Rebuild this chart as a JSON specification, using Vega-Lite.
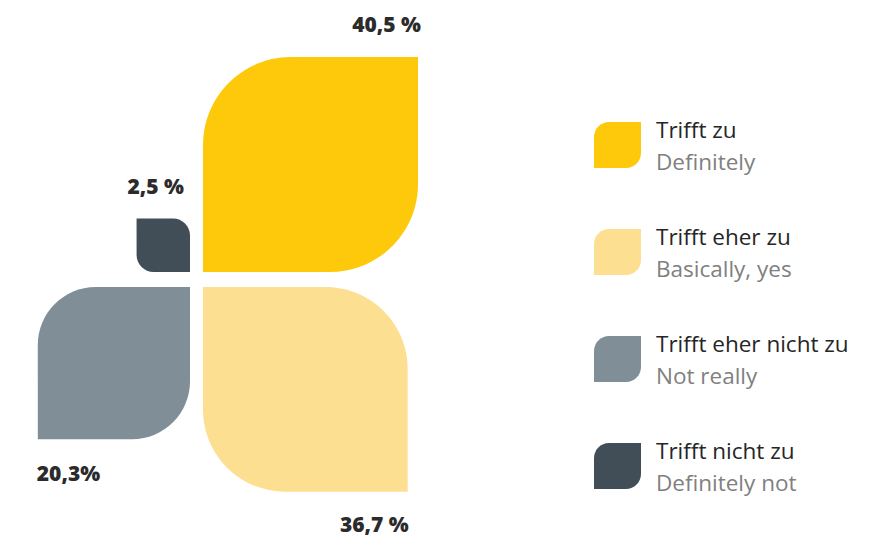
{
  "$schema": "https://vega.github.io/schema/vega-lite/v6.json",
  "width": 887,
  "height": 538,
  "padding": 0,
  "autosize": {"type": "none"},
  "background": "white",
  "config": {"view": {"stroke": null}},
  "data": {
    "values": [
      {"cat": "Trifft zu", "en": "Definitely", "value": 40.5, "label": "40,5 %"},
      {"cat": "Trifft eher zu", "en": "Basically, yes", "value": 36.7, "label": "36,7 %"},
      {"cat": "Trifft eher nicht zu", "en": "Not really", "value": 20.3, "label": "20,3%"},
      {"cat": "Trifft nicht zu", "en": "Definitely not", "value": 2.5, "label": "2,5 %"}
    ]
  },
  "resolve": {"scale": {"x": "independent", "y": "independent"}},
  "layer": [
    {
      "transform": [{"filter": "datum.cat === 'Trifft zu'"}],
      "encoding": {
        "x": {"field": "value", "type": "quantitative", "axis": null, "scale": {"type": "sqrt", "domain": [0, 40.5], "range": [203, 418], "nice": false}},
        "y": {"field": "value", "type": "quantitative", "axis": null, "scale": {"type": "sqrt", "domain": [0, 40.5], "range": [272, 57], "nice": false}}
      },
      "layer": [
        {
          "mark": {"type": "rect", "cornerRadiusTopLeft": 88, "cornerRadiusBottomRight": 88},
          "encoding": {
            "x2": {"datum": 0},
            "y2": {"datum": 0},
            "color": {"field": "cat", "type": "nominal", "legend": null, "scale": {"domain": ["Trifft zu", "Trifft eher zu", "Trifft eher nicht zu", "Trifft nicht zu"], "range": ["#FDC90A", "#FDDF91", "#808E97", "#414E58"]}}
          }
        },
        {
          "mark": {"type": "text", "align": "right", "baseline": "alphabetic", "dx": 3, "dy": -25, "font": "Open Sans", "fontWeight": 800, "fontSize": 21, "color": "#2b2b2b"},
          "encoding": {"text": {"field": "label"}}
        }
      ]
    },
    {
      "transform": [{"filter": "datum.cat === 'Trifft eher zu'"}],
      "encoding": {
        "x": {"field": "value", "type": "quantitative", "axis": null, "scale": {"type": "sqrt", "domain": [0, 40.5], "range": [203, 418], "nice": false}},
        "y": {"field": "value", "type": "quantitative", "axis": null, "scale": {"type": "sqrt", "domain": [0, 40.5], "range": [287, 502], "nice": false}}
      },
      "layer": [
        {
          "mark": {"type": "rect", "cornerRadiusTopRight": 82, "cornerRadiusBottomLeft": 82},
          "encoding": {
            "x2": {"datum": 0},
            "y2": {"datum": 0},
            "color": {"field": "cat", "type": "nominal", "legend": null}
          }
        },
        {
          "mark": {"type": "text", "align": "right", "baseline": "alphabetic", "dx": 1, "dy": 40, "font": "Open Sans", "fontWeight": 800, "fontSize": 21, "color": "#2b2b2b"},
          "encoding": {"text": {"field": "label"}}
        }
      ]
    },
    {
      "transform": [{"filter": "datum.cat === 'Trifft eher nicht zu'"}],
      "encoding": {
        "x": {"field": "value", "type": "quantitative", "axis": null, "scale": {"type": "sqrt", "domain": [0, 40.5], "range": [190, -25], "nice": false}},
        "y": {"field": "value", "type": "quantitative", "axis": null, "scale": {"type": "sqrt", "domain": [0, 40.5], "range": [287, 502], "nice": false}}
      },
      "layer": [
        {
          "mark": {"type": "rect", "cornerRadiusTopLeft": 58, "cornerRadiusBottomRight": 58},
          "encoding": {
            "x2": {"datum": 0},
            "y2": {"datum": 0},
            "color": {"field": "cat", "type": "nominal", "legend": null}
          }
        },
        {
          "mark": {"type": "text", "align": "left", "baseline": "alphabetic", "dx": -1, "dy": 42, "font": "Open Sans", "fontWeight": 800, "fontSize": 21, "color": "#2b2b2b"},
          "encoding": {"text": {"field": "label"}}
        }
      ]
    },
    {
      "transform": [{"filter": "datum.cat === 'Trifft nicht zu'"}],
      "encoding": {
        "x": {"field": "value", "type": "quantitative", "axis": null, "scale": {"type": "sqrt", "domain": [0, 40.5], "range": [190, -25], "nice": false}},
        "y": {"field": "value", "type": "quantitative", "axis": null, "scale": {"type": "sqrt", "domain": [0, 40.5], "range": [272, 57], "nice": false}}
      },
      "layer": [
        {
          "mark": {"type": "rect", "cornerRadiusTopRight": 17, "cornerRadiusBottomLeft": 17},
          "encoding": {
            "x2": {"datum": 0},
            "y2": {"datum": 0},
            "color": {"field": "cat", "type": "nominal", "legend": null}
          }
        },
        {
          "mark": {"type": "text", "align": "right", "baseline": "alphabetic", "dy": -25, "font": "Open Sans", "fontWeight": 800, "fontSize": 21, "color": "#2b2b2b"},
          "encoding": {"text": {"field": "label"}, "x": {"datum": 0, "type": "quantitative"}, "xOffset": {"value": -6}}
        }
      ]
    },
    {
      "encoding": {
        "y": {"field": "cat", "type": "nominal", "axis": null, "sort": null, "scale": {"domain": ["Trifft zu", "Trifft eher zu", "Trifft eher nicht zu", "Trifft nicht zu"], "range": [122, 489], "paddingInner": 0.57, "paddingOuter": 0}}
      },
      "layer": [
        {
          "mark": {"type": "rect", "cornerRadiusTopLeft": 15, "cornerRadiusBottomRight": 15},
          "encoding": {
            "x": {"datum": 0, "type": "quantitative", "axis": null, "scale": {"domain": [0, 100], "range": [594, 694], "nice": false, "zero": false}},
            "x2": {"datum": 47},
            "color": {"field": "cat", "type": "nominal", "legend": null}
          }
        },
        {
          "mark": {"type": "text", "align": "left", "baseline": "alphabetic", "dy": -7, "font": "Open Sans", "fontSize": 22.5, "color": "#262626"},
          "encoding": {
            "x": {"datum": 62, "type": "quantitative"},
            "text": {"field": "cat"}
          }
        },
        {
          "mark": {"type": "text", "align": "left", "baseline": "alphabetic", "dy": 25, "font": "Open Sans", "fontSize": 22.5, "color": "#808080"},
          "encoding": {
            "x": {"datum": 62, "type": "quantitative"},
            "text": {"field": "en"}
          }
        }
      ]
    }
  ]
}
